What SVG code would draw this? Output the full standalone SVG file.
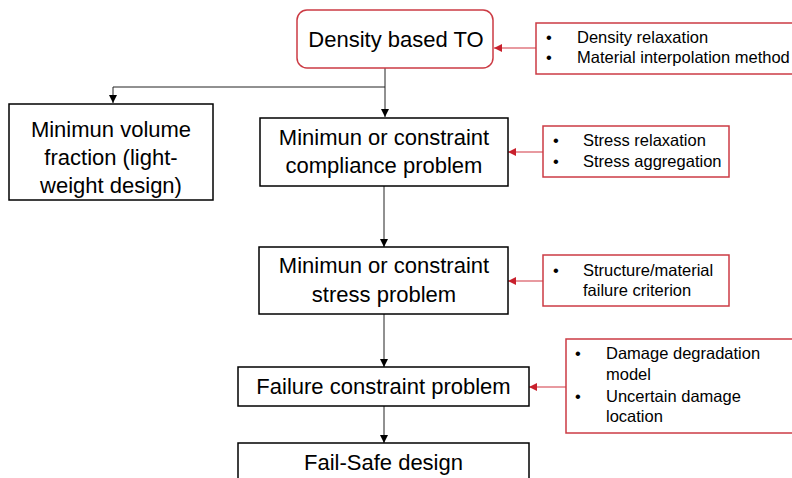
<svg xmlns="http://www.w3.org/2000/svg" width="792" height="478" viewBox="0 0 792 478">
<style>
.box{fill:#fff;stroke:#000;stroke-width:1.5}
.rbox{fill:#fff;stroke:#cc3b44;stroke-width:1.5}
.t{font-family:"Liberation Sans",Arial,sans-serif;font-size:22px;fill:#000;text-anchor:middle}
.s{font-family:"Liberation Sans",Arial,sans-serif;font-size:16.5px;fill:#000}
.c{fill:none;stroke:#222;stroke-width:1}
.r{fill:none;stroke:#e07880;stroke-width:1.5}
</style>
<defs>
<marker id="ab" markerUnits="userSpaceOnUse" markerWidth="8" markerHeight="8" refX="8" refY="4" orient="auto"><path d="M0,0 L8,4 L0,8 Z" fill="#000"/></marker>
<marker id="ar" markerUnits="userSpaceOnUse" markerWidth="8" markerHeight="8" refX="8" refY="4" orient="auto"><path d="M0,0 L8,4 L0,8 Z" fill="#c8202c"/></marker>
</defs>
<rect width="792" height="478" fill="#fff"/>
<g id="connectors">
<path class="c" d="M385,68 V117" marker-end="url(#ab)"/>
<path class="c" d="M385,87 H113 V103" marker-end="url(#ab)"/>
<path class="c" d="M384,186 V247" marker-end="url(#ab)"/>
<path class="c" d="M384,314 V367" marker-end="url(#ab)"/>
<path class="c" d="M384,406 V443" marker-end="url(#ab)"/>
<path class="r" d="M536,48 H494" marker-end="url(#ar)"/>
<path class="r" d="M543,152 H508" marker-end="url(#ar)"/>
<path class="r" d="M543,281 H508" marker-end="url(#ar)"/>
<path class="r" d="M566,387 H529" marker-end="url(#ar)"/>
</g>
<g id="density">
<rect x="297" y="10" width="196" height="58" rx="10" fill="#fff" stroke="#cc3b44" stroke-width="1.5"/>
<text class="t" x="396" y="47">Density based TO</text>
</g>
<g id="note1">
<rect class="rbox" x="536" y="23" width="260" height="51"/>
<text class="s" x="546" y="43">•</text><text class="s" x="577" y="43">Density relaxation</text>
<text class="s" x="546" y="63">•</text><text class="s" x="577" y="63">Material interpolation method</text>
</g>
<g id="volume">
<rect class="box" x="9" y="104" width="204" height="96"/>
<text class="t" x="111" y="137">Minimun volume</text>
<text class="t" x="111" y="165">fraction (light-</text>
<text class="t" x="111" y="193">weight design)</text>
</g>
<g id="compliance">
<rect class="box" x="260" y="118" width="248" height="68"/>
<text class="t" x="384" y="145">Minimun or constraint</text>
<text class="t" x="384" y="173">compliance problem</text>
</g>
<g id="note2">
<rect class="rbox" x="543" y="126" width="186" height="51"/>
<text class="s" x="553" y="146">•</text><text class="s" x="583" y="146">Stress relaxation</text>
<text class="s" x="553" y="167">•</text><text class="s" x="583" y="167">Stress aggregation</text>
</g>
<g id="stress">
<rect class="box" x="259" y="247" width="249" height="67"/>
<text class="t" x="384" y="273">Minimun or constraint</text>
<text class="t" x="384" y="302">stress problem</text>
</g>
<g id="note3">
<rect class="rbox" x="543" y="255" width="186" height="51"/>
<text class="s" x="553" y="276">•</text><text class="s" x="583" y="276">Structure/material</text>
<text class="s" x="583" y="296">failure criterion</text>
</g>
<g id="failure">
<rect class="box" x="238" y="367" width="291" height="39"/>
<text class="t" x="383.5" y="394">Failure constraint problem</text>
</g>
<g id="note4">
<rect class="rbox" x="566" y="339" width="240" height="94"/>
<text class="s" x="575" y="359">•</text><text class="s" x="606" y="359">Damage degradation</text>
<text class="s" x="606" y="380">model</text>
<text class="s" x="575" y="402">•</text><text class="s" x="606" y="402">Uncertain damage</text>
<text class="s" x="606" y="422">location</text>
</g>
<g id="failsafe">
<rect class="box" x="238" y="443" width="291" height="50"/>
<text class="t" x="383.5" y="470">Fail-Safe design</text>
</g>
</svg>
